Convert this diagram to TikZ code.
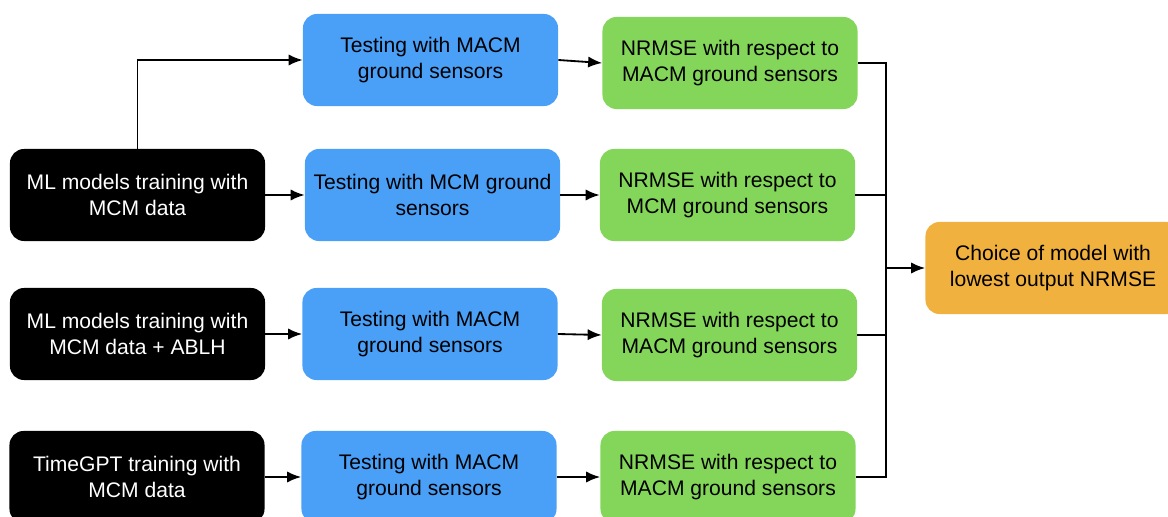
\documentclass[tikz,border=0pt]{standalone}
\usepackage{fontspec}
\setmainfont{Liberation Sans}
\usetikzlibrary{arrows.meta}

\definecolor{trainblack}{RGB}{0,0,0}
\definecolor{testblue}{RGB}{74,159,247}
\definecolor{nrmsegreen}{RGB}{132,214,90}
\definecolor{choiceorange}{RGB}{240,177,62}

\tikzset{
    box/.style={rounded corners=0.35cm, minimum width=6.375cm, minimum height=2.3cm,
        align=center, inner sep=2pt, font=\fontsize{15}{18}\selectfont},
    trainbox/.style={box, fill=trainblack, text=white},
    testbox/.style={box, fill=testblue},
    nrmsebox/.style={box, fill=nrmsegreen},
    choicebox/.style={box, fill=choiceorange},
    link/.style={line width=1.3pt, -{Latex[length=10pt,width=8pt]}},
    bus/.style={line width=1.3pt}
}

\begin{document}
\begin{tikzpicture}[x=0.025cm, y=-0.025cm]

\useasboundingbox (0,0) rectangle (1168,517);
\clip (0,0) rectangle (1168,517);

% Training
\node[trainbox] (train1) at (137.5,195) {ML models training with\\MCM data};
\node[trainbox] (train2) at (137.5,334) {ML models training with\\MCM data + ABLH};
\node[trainbox] (train3) at (137,477) {TimeGPT training with\\MCM data};

% Testing
\node[testbox] (test1) at (430.5,60) {Testing with MACM\\ground sensors};
\node[testbox] (test2) at (432.5,195) {Testing with MCM ground\\sensors};
\node[testbox] (test3) at (430,334) {Testing with MACM\\ground sensors};
\node[testbox] (test4) at (429,477) {Testing with MACM\\ground sensors};

% NRMSE
\node[nrmsebox] (nrmse1) at (730,63) {NRMSE with respect to\\MACM ground sensors};
\node[nrmsebox] (nrmse2) at (727.5,195) {NRMSE with respect to\\MCM ground sensors};
\node[nrmsebox] (nrmse3) at (729.5,335) {NRMSE with respect to\\MACM ground sensors};
\node[nrmsebox] (nrmse4) at (728,477) {NRMSE with respect to\\MACM ground sensors};

% Choice
\node[choicebox] (choice) at (1053,268) {Choice of model with\\lowest output NRMSE};

% Arrows
\draw[link] (train1.north) |- (test1.west);
\draw[link] (train1.east) -- (test2.west);
\draw[link] (train2.east) -- (test3.west);
\draw[link] (train3.east) -- (test4.west);

\foreach \i in {1,...,4}
{
    \draw[link] (test\i.east) -- (nrmse\i.west);
}

\coordinate (bustop) at (886,63);
\coordinate (busbot) at (886,477);

\draw[bus] (nrmse1.east) -- (bustop) -- (busbot) -- (nrmse4.east);
\draw[bus] (nrmse2.east) -- (nrmse2.east -| bustop);
\draw[bus] (nrmse3.east) -- (nrmse3.east -| bustop);
\draw[link] (bustop |- choice.west) -- (choice.west);

\end{tikzpicture}
\end{document}
